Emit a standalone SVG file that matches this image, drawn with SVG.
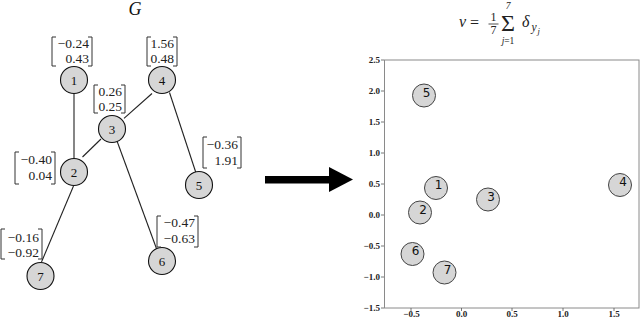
<svg xmlns="http://www.w3.org/2000/svg" width="640" height="318" viewBox="0 0 640 318">
<defs>
<style>
.bg{fill:#ffffff}
.gn circle{fill:#d6d6d6;stroke:#111;stroke-width:1.1}
.gn text.id{font-family:"Liberation Serif","DejaVu Serif",serif;font-size:13px;fill:#111;text-anchor:middle}
.vec{font-family:"Liberation Serif","DejaVu Serif",serif;font-size:13.5px;fill:#222;text-anchor:end}
.br{fill:none;stroke:#333;stroke-width:1}
.edge{stroke:#222;stroke-width:1.1;fill:none}
.ttl{font-family:"Liberation Serif","DejaVu Serif",serif;font-style:italic;fill:#111}
.math{font-family:"Liberation Serif","DejaVu Serif",serif;fill:#222}
.spine{fill:none;stroke:#8a8a8a;stroke-width:1}
.tick{stroke:#555;stroke-width:0.8}
.tl{font-family:"Liberation Serif","DejaVu Serif",serif;font-weight:bold;font-size:9px;fill:#222}
.pt circle{fill:#d6d6d6;stroke:#444;stroke-width:1}
.pt text{font-family:"DejaVu Sans","Liberation Sans",sans-serif;font-size:12px;fill:#111;text-anchor:middle}
</style>
</defs>
<rect class="bg" x="0" y="0" width="640" height="318"/>

<!-- Left graph title -->
<text class="ttl" x="135" y="15" font-size="18" text-anchor="middle">G</text>

<!-- connectors -->
<g id="edges">
<line class="edge" x1="74" y1="93" x2="74" y2="159"/>
<line class="edge" x1="82.5" y1="157" x2="101" y2="139"/>
<line class="edge" x1="124" y1="118.3" x2="152" y2="93.5"/>
<line class="edge" x1="169.5" y1="92.5" x2="196" y2="173"/>
<line class="edge" x1="117" y1="141" x2="157" y2="250"/>
<line class="edge" x1="73.5" y1="186" x2="41.5" y2="262"/>
</g>

<g id="node1" class="gn">
<circle cx="74" cy="80" r="13.5"/>
<text class="id" x="74" y="84.5">1</text>
<path class="br" d="M56,37 H52 V66 H56 M88,37 H92 V66 H88"/>
<text class="vec" x="89" y="47.5">−0.24</text>
<text class="vec" x="89" y="62.5">0.43</text>
</g>
<g id="node2" class="gn">
<circle cx="74" cy="172" r="13.5"/>
<text class="id" x="74" y="176.5">2</text>
<path class="br" d="M19,152 H15 V184 H19 M51,152 H55 V184 H51"/>
<text class="vec" x="52" y="164">−0.40</text>
<text class="vec" x="52" y="179.5">0.04</text>
</g>
<g id="node3" class="gn">
<circle cx="112" cy="129" r="13.5"/>
<text class="id" x="112" y="133.5">3</text>
<path class="br" d="M98,85 H94 V113 H98 M121,85 H125 V113 H121"/>
<text class="vec" x="122" y="96">0.26</text>
<text class="vec" x="122" y="111">0.25</text>
</g>
<g id="node4" class="gn">
<circle cx="162" cy="80" r="13.5"/>
<text class="id" x="162" y="84.5">4</text>
<path class="br" d="M151,37 H147 V66 H151 M173,37 H177 V66 H173"/>
<text class="vec" x="174" y="47.5">1.56</text>
<text class="vec" x="174" y="62.5">0.48</text>
</g>
<g id="node5" class="gn">
<circle cx="199" cy="185" r="13.5"/>
<text class="id" x="199" y="189.5">5</text>
<path class="br" d="M207,137 H203 V168 H207 M237,137 H241 V168 H237"/>
<text class="vec" x="238" y="149">−0.36</text>
<text class="vec" x="238" y="164.5">1.91</text>
</g>
<g id="node6" class="gn">
<circle cx="162" cy="261" r="13.5"/>
<text class="id" x="162" y="265.5">6</text>
<path class="br" d="M161,216 H157 V247 H161 M194,216 H198 V247 H194"/>
<text class="vec" x="195" y="227">−0.47</text>
<text class="vec" x="195" y="243">−0.63</text>
</g>
<g id="node7" class="gn">
<circle cx="40.5" cy="276" r="13.5"/>
<text class="id" x="40.5" y="280.5">7</text>
<path class="br" d="M5,229 H1 V259 H5 M38,229 H42 V259 H38"/>
<text class="vec" x="39" y="242">−0.16</text>
<text class="vec" x="39" y="257">−0.92</text>
</g>

<!-- big arrow -->
<g id="arrow">
<rect x="265" y="176" width="65" height="7.5" fill="#000"/>
<polygon points="329,167 353,179.5 329,192" fill="#000"/>
</g>

<!-- formula -->
<g id="formula" class="math">
<text x="459" y="26.5" font-size="16" font-style="italic">ν</text>
<text x="470" y="27.5" font-size="16">=</text>
<text x="493.5" y="21" font-size="12" text-anchor="middle">1</text>
<line x1="488.5" y1="24" x2="498.5" y2="24" stroke="#222" stroke-width="0.8"/>
<text x="493.5" y="33.5" font-size="12" text-anchor="middle">7</text>
<text x="508" y="31" font-size="24" text-anchor="middle">Σ</text>
<text x="508" y="8.5" font-size="9.5" font-style="italic" text-anchor="middle">7</text>
<text x="508" y="44" font-size="9.5" text-anchor="middle"><tspan font-style="italic">j</tspan>=1</text>
<text x="522" y="26.5" font-size="16" font-style="italic">δ</text>
<text x="531.5" y="30.5" font-size="11.5" font-style="italic">y</text>
<text x="537.5" y="33.5" font-size="8.5" font-style="italic">j</text>
</g>

<!-- axes -->
<g id="axes">
<rect class="spine" x="384.5" y="60" width="254.5" height="248"/>
<g class="tick">
<line x1="381" y1="60" x2="384" y2="60"/>
<line x1="381" y1="91" x2="384" y2="91"/>
<line x1="381" y1="122" x2="384" y2="122"/>
<line x1="381" y1="153" x2="384" y2="153"/>
<line x1="381" y1="184" x2="384" y2="184"/>
<line x1="381" y1="215" x2="384" y2="215"/>
<line x1="381" y1="246" x2="384" y2="246"/>
<line x1="381" y1="277" x2="384" y2="277"/>
<line x1="381" y1="308" x2="384" y2="308"/>
<line x1="411" y1="308" x2="411" y2="311"/>
<line x1="461.5" y1="308" x2="461.5" y2="311"/>
<line x1="512" y1="308" x2="512" y2="311"/>
<line x1="563" y1="308" x2="563" y2="311"/>
<line x1="614" y1="308" x2="614" y2="311"/>
</g>
<g class="tl" text-anchor="end">
<text x="380" y="63">2.5</text>
<text x="380" y="94">2.0</text>
<text x="380" y="125">1.5</text>
<text x="380" y="156">1.0</text>
<text x="380" y="187">0.5</text>
<text x="380" y="218">0.0</text>
<text x="380" y="249">−0.5</text>
<text x="380" y="280">−1.0</text>
<text x="380" y="311">−1.5</text>
</g>
<g class="tl" text-anchor="middle">
<text x="411.5" y="317">−0.5</text>
<text x="461.5" y="317">0.0</text>
<text x="512" y="317">0.5</text>
<text x="563" y="317">1.0</text>
<text x="614" y="317">1.5</text>
</g>
</g>

<!-- plotted points -->
<g id="p1" class="pt"><circle cx="436" cy="188" r="11.5"/><text x="438.5" y="189">1</text></g>
<g id="p2" class="pt"><circle cx="420" cy="212.5" r="11.5"/><text x="423" y="213.5">2</text></g>
<g id="p3" class="pt"><circle cx="488" cy="199.5" r="11.5"/><text x="491" y="200.5">3</text></g>
<g id="p4" class="pt"><circle cx="620" cy="185" r="11.5"/><text x="623" y="186">4</text></g>
<g id="p5" class="pt"><circle cx="424" cy="95.5" r="11.5"/><text x="426.5" y="96.5">5</text></g>
<g id="p6" class="pt"><circle cx="412.5" cy="254" r="11.5"/><text x="415.5" y="255">6</text></g>
<g id="p7" class="pt"><circle cx="444.5" cy="272.5" r="11.5"/><text x="447.5" y="273.5">7</text></g>
</svg>
